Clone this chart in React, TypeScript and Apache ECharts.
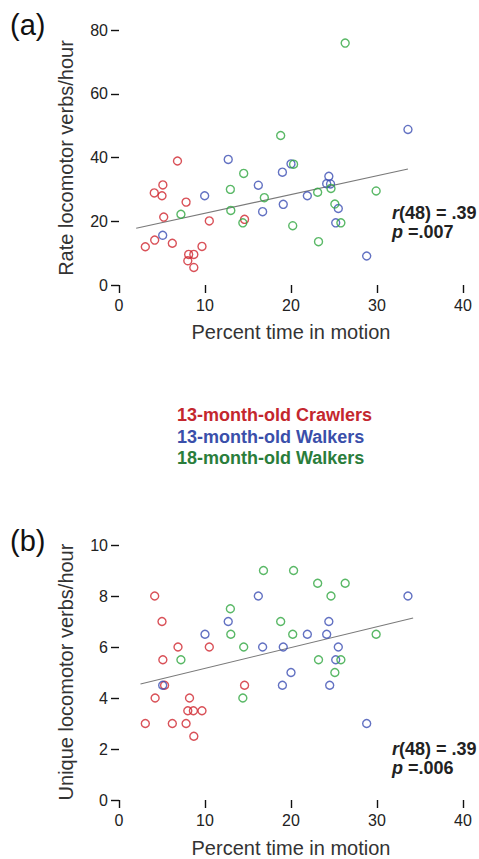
import React, { useEffect, useRef } from "react";
import * as echarts from "echarts";

// Panel (a): percent time in motion vs rate of locomotor verbs/hour
const crawlers13A: number[][] = [
  [6.8, 38.9], [5.1, 31.4], [4.1, 28.9], [5.0, 28.0], [7.8, 26.0], [5.2, 21.3],
  [10.5, 20.1], [14.6, 20.6], [4.15, 14.1], [6.2, 13.1], [3.06, 12.0], [9.65, 12.1],
  [8.1, 9.6], [8.7, 9.6], [8.0, 7.6], [8.7, 5.5],
];
const walkers13A: number[][] = [
  [12.7, 39.4], [9.96, 28.0], [16.2, 31.3], [19.0, 35.4], [20.0, 38.0], [19.1, 25.3],
  [16.7, 23.0], [5.08, 15.6], [33.6, 48.8], [24.4, 34.1], [24.15, 31.8], [24.6, 31.7],
  [21.9, 28.0], [25.5, 24.0], [25.2, 19.5], [28.8, 9.1],
];
const walkers18A: number[][] = [
  [18.8, 46.9], [14.5, 35.0], [12.95, 30.0], [16.9, 27.4], [7.2, 22.2], [13.0, 23.4],
  [14.4, 19.5], [20.2, 18.6], [20.3, 37.9], [26.3, 75.9], [29.9, 29.5], [23.1, 29.1],
  [24.65, 30.3], [25.1, 25.4], [25.8, 19.5], [23.2, 13.6],
];
const fitA: number[][] = [[2.0, 17.8], [33.6, 36.4]];

// Panel (b): percent time in motion vs unique locomotor verbs/hour
const crawlers13B: number[][] = [
  [4.15, 8], [5.0, 7], [6.86, 6], [10.5, 6], [5.1, 5.5], [5.3, 4.5], [14.6, 4.5], [4.2, 4],
  [8.2, 4], [8.0, 3.5], [8.65, 3.5], [9.65, 3.5], [3.06, 3], [6.2, 3], [7.8, 3], [8.7, 2.5],
];
const walkers13B: number[][] = [
  [16.2, 8], [12.7, 7], [10.0, 6.5], [16.7, 6], [19.1, 6], [20.0, 5], [19.0, 4.5], [5.08, 4.5],
  [33.6, 8], [24.4, 7], [21.9, 6.5], [24.15, 6.5], [25.5, 6], [25.2, 5.5], [24.5, 4.5], [28.8, 3],
];
const walkers18B: number[][] = [
  [16.8, 9], [20.3, 9], [12.95, 7.5], [18.8, 7], [13.0, 6.5], [20.2, 6.5], [14.5, 6], [7.2, 5.5],
  [14.4, 4], [23.1, 8.5], [26.3, 8.5], [24.65, 8], [29.9, 6.5], [23.2, 5.5], [25.8, 5.5], [25.1, 5],
];
const fitB: number[][] = [[2.5, 4.55], [34.2, 7.14]];

const groupNames = ["13-month-old Crawlers", "13-month-old Walkers", "18-month-old Walkers"];
const xTitle = "Percent time in motion";
const yTitleA = "Rate locomotor verbs/hour";
const yTitleB = "Unique locomotor verbs/hour";
const statsA = ["{i|r}(48) = .39", "{i|p} =.007"];
const statsB = ["{i|r}(48) = .39", "{i|p} =.006"];

const FONT = "'Liberation Sans', Arial, Helvetica, sans-serif";
const markerColors = ["#d0262e", "#3b4db3", "#2fa640"];
const legendColors = ["#c4272e", "#3a4faa", "#2a7d3b"];

export default function App() {
  const ref = useRef<HTMLDivElement>(null);

  useEffect(() => {
    if (!ref.current) return;
    const chart = echarts.init(ref.current, null, { renderer: "svg" });

    const xAxisBase = (gridIndex: number) => ({
      type: "value" as const,
      gridIndex,
      min: 0,
      max: 40,
      interval: 10,
      axisLine: { show: false },
      splitLine: { show: false },
      axisTick: { show: true, length: 8, lineStyle: { color: "#111", width: 1.4 } },
      axisLabel: { fontSize: 16, color: "#222", fontFamily: FONT, margin: 12 },
    });
    const yAxisBase = (gridIndex: number, max: number, interval: number) => ({
      type: "value" as const,
      gridIndex,
      min: 0,
      max,
      interval,
      axisLine: { show: false },
      splitLine: { show: false },
      axisTick: { show: true, length: 8, lineStyle: { color: "#111", width: 1.4 } },
      axisLabel: { fontSize: 16, color: "#222", fontFamily: FONT, margin: 11 },
    });

    const scatter = (name: string, data: number[][], idx: number, color: string) => ({
      type: "scatter" as const,
      name,
      xAxisIndex: idx,
      yAxisIndex: idx,
      data,
      symbol: "circle",
      symbolSize: 8,
      itemStyle: { color: "rgba(255,255,255,0)", borderColor: color, borderWidth: 1.4 },
      z: 3,
    });
    const fit = (data: number[][], idx: number) => ({
      type: "line" as const,
      xAxisIndex: idx,
      yAxisIndex: idx,
      data,
      showSymbol: false,
      symbol: "none",
      lineStyle: { color: "#7a7a7a", width: 1.1 },
      z: 2,
      silent: true,
    });

    const statText = (lines: string[], y0: number) =>
      lines.map((t, i) => ({
        type: "text",
        left: 392,
        top: y0 + i * 19,
        style: {
          text: t,
          font: `bold 18px ${FONT}`,
          fill: "#222",
          rich: { i: { fontStyle: "italic", fontWeight: "bold", fontSize: 18, fontFamily: FONT, fill: "#222" } },
        },
      }));

    const yTitle = (text: string, cy: number) => ({
      type: "text",
      x: 66,
      y: cy,
      rotation: Math.PI / 2,
      style: {
        text,
        font: `20px ${FONT}`,
        fill: "#333",
        textAlign: "center",
        textVerticalAlign: "middle",
      },
    });
    const xTitleEl = (cy: number) => ({
      type: "text",
      x: 291,
      y: cy,
      style: {
        text: xTitle,
        font: `20px ${FONT}`,
        fill: "#333",
        textAlign: "center",
        textVerticalAlign: "middle",
      },
    });

    chart.setOption({
      animation: false,
      backgroundColor: "#ffffff",
      grid: [
        { left: 119, top: 30, width: 344, height: 255 },
        { left: 119, top: 545, width: 344, height: 255 },
      ],
      xAxis: [xAxisBase(0), xAxisBase(1)],
      yAxis: [yAxisBase(0, 80, 20), yAxisBase(1, 10, 2)],
      series: [
        fit(fitA, 0),
        scatter(groupNames[0], crawlers13A, 0, markerColors[0]),
        scatter(groupNames[1], walkers13A, 0, markerColors[1]),
        scatter(groupNames[2], walkers18A, 0, markerColors[2]),
        fit(fitB, 1),
        scatter(groupNames[0], crawlers13B, 1, markerColors[0]),
        scatter(groupNames[1], walkers13B, 1, markerColors[1]),
        scatter(groupNames[2], walkers18B, 1, markerColors[2]),
      ],
      graphic: [
        {
          type: "text",
          left: 10,
          top: 10,
          style: { text: "(a)", font: `29px ${FONT}`, fill: "#111" },
        },
        {
          type: "text",
          left: 10,
          top: 526,
          style: { text: "(b)", font: `29px ${FONT}`, fill: "#111" },
        },
        yTitle(yTitleA, 158),
        yTitle(yTitleB, 672),
        xTitleEl(332),
        xTitleEl(848),
        ...statText(statsA, 204),
        ...statText(statsB, 740),
        ...groupNames.map((n, i) => ({
          type: "text",
          left: 177,
          top: 406 + i * 21.5,
          style: { text: n, font: `bold 18px ${FONT}`, fill: legendColors[i] },
        })),
      ],
    });

    return () => chart.dispose();
  }, []);

  return (
    <div
      ref={ref}
      style={{ position: "absolute", left: 0, top: 0, width: 479, height: 859, background: "#fff" }}
    />
  );
}
